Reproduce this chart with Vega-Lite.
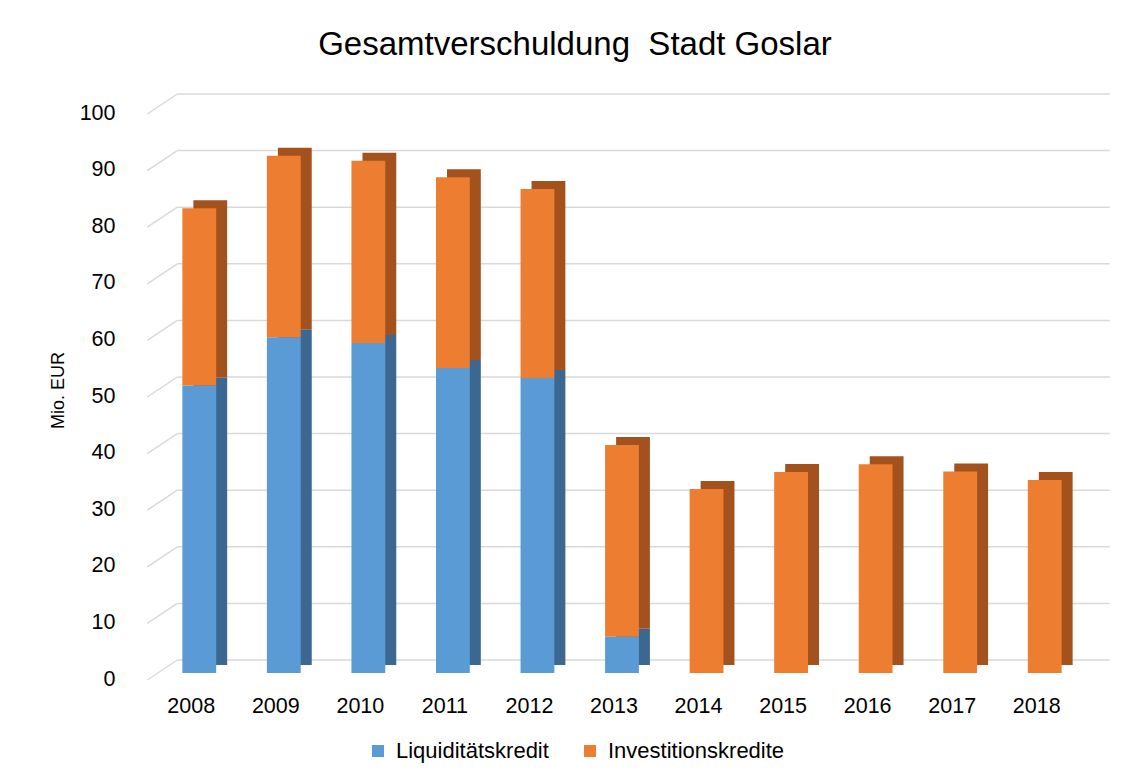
{
  "$schema": "https://vega.github.io/schema/vega-lite/v6.json",
  "width": 930,
  "height": 566,
  "autosize": {"type": "none"},
  "padding": {"left": 157, "top": 107, "right": 44, "bottom": 103},
  "background": "white",
  "title": {
    "text": "Gesamtverschuldung\u00a0 Stadt Goslar",
    "font": "Liberation Sans",
    "fontSize": 33,
    "fontWeight": "normal",
    "color": "#000000",
    "anchor": "middle",
    "baseline": "alphabetic",
    "dx": -47,
    "offset": 5
  },
  "data": {
    "values": [
      {"jahr": "2008", "art": "Liquiditätskredit", "ord": 0, "wert": 50.8},
      {"jahr": "2008", "art": "Investitionskredite", "ord": 1, "wert": 31.3},
      {"jahr": "2009", "art": "Liquiditätskredit", "ord": 0, "wert": 59.3},
      {"jahr": "2009", "art": "Investitionskredite", "ord": 1, "wert": 32.1},
      {"jahr": "2010", "art": "Liquiditätskredit", "ord": 0, "wert": 58.3},
      {"jahr": "2010", "art": "Investitionskredite", "ord": 1, "wert": 32.2},
      {"jahr": "2011", "art": "Liquiditätskredit", "ord": 0, "wert": 53.9},
      {"jahr": "2011", "art": "Investitionskredite", "ord": 1, "wert": 33.7},
      {"jahr": "2012", "art": "Liquiditätskredit", "ord": 0, "wert": 52.1},
      {"jahr": "2012", "art": "Investitionskredite", "ord": 1, "wert": 33.4},
      {"jahr": "2013", "art": "Liquiditätskredit", "ord": 0, "wert": 6.4},
      {"jahr": "2013", "art": "Investitionskredite", "ord": 1, "wert": 33.9},
      {"jahr": "2014", "art": "Liquiditätskredit", "ord": 0, "wert": 0},
      {"jahr": "2014", "art": "Investitionskredite", "ord": 1, "wert": 32.5},
      {"jahr": "2015", "art": "Liquiditätskredit", "ord": 0, "wert": 0},
      {"jahr": "2015", "art": "Investitionskredite", "ord": 1, "wert": 35.5},
      {"jahr": "2016", "art": "Liquiditätskredit", "ord": 0, "wert": 0},
      {"jahr": "2016", "art": "Investitionskredite", "ord": 1, "wert": 36.9},
      {"jahr": "2017", "art": "Liquiditätskredit", "ord": 0, "wert": 0},
      {"jahr": "2017", "art": "Investitionskredite", "ord": 1, "wert": 35.6},
      {"jahr": "2018", "art": "Liquiditätskredit", "ord": 0, "wert": 0},
      {"jahr": "2018", "art": "Investitionskredite", "ord": 1, "wert": 34.1}
    ]
  },
  "encoding": {
    "x": {
      "field": "jahr",
      "type": "ordinal",
      "title": null,
      "scale": {"paddingInner": 0, "paddingOuter": 0},
      "axis": {
        "labelAngle": 0,
        "labelFont": "Liberation Sans",
        "labelFontSize": 21.5,
        "labelColor": "#000000",
        "labelOffset": -8,
        "labelPadding": 22,
        "ticks": false,
        "domain": false
      }
    }
  },
  "layer": [
    {
      "data": {"values": [{"v": 0}, {"v": 10}, {"v": 20}, {"v": 30}, {"v": 40}, {"v": 50}, {"v": 60}, {"v": 70}, {"v": 80}, {"v": 90}, {"v": 100}]},
      "mark": {"type": "rule", "color": "#d9d9d9", "strokeWidth": 1.5, "xOffset": -22, "x2Offset": 65, "yOffset": -13, "y2Offset": -13},
      "encoding": {
        "x": {"datum": "2008", "type": "ordinal"},
        "x2": {"datum": "2018"},
        "y": {"field": "v", "type": "quantitative"},
        "y2": {"field": "v"}
      }
    },
    {
      "data": {"values": [{"v": 0}, {"v": 10}, {"v": 20}, {"v": 30}, {"v": 40}, {"v": 50}, {"v": 60}, {"v": 70}, {"v": 80}, {"v": 90}, {"v": 100}]},
      "mark": {"type": "rule", "color": "#d9d9d9", "strokeWidth": 1.5, "xOffset": -52, "x2Offset": -22, "yOffset": 7, "y2Offset": -13},
      "encoding": {
        "x": {"datum": "2008", "type": "ordinal"},
        "x2": {"datum": "2008"},
        "y": {"field": "v", "type": "quantitative"},
        "y2": {"field": "v"}
      }
    },
    {
      "mark": {"type": "bar", "xOffset": 11, "yOffset": -8, "width": {"band": 0.4}},
      "encoding": {
        "y": {"field": "wert", "type": "quantitative", "stack": "zero"},
        "order": {"field": "ord"},
        "color": {
          "field": "art",
          "type": "nominal",
          "scale": {"domain": ["Liquiditätskredit", "Investitionskredite"], "range": ["#3b6791", "#a4521d"]},
          "legend": null
        }
      }
    },
    {
      "mark": {"type": "bar", "width": {"band": 0.4}},
      "encoding": {
        "y": {
          "field": "wert",
          "type": "quantitative",
          "stack": "zero",
          "title": "Mio. EUR",
          "scale": {"domain": [0, 100]},
          "axis": {
            "values": [0, 10, 20, 30, 40, 50, 60, 70, 80, 90, 100],
            "grid": false,
            "ticks": false,
            "domain": false,
            "labelFont": "Liberation Sans",
            "labelFontSize": 21.5,
            "labelColor": "#000000",
            "labelPadding": 42,
            "labelOffset": 6,
            "titleFont": "Liberation Sans",
            "titleFontSize": 18,
            "titleFontWeight": "normal",
            "titleColor": "#000000",
            "titlePadding": 12
          }
        },
        "order": {"field": "ord"},
        "color": {
          "field": "art",
          "type": "nominal",
          "title": null,
          "scale": {"domain": ["Liquiditätskredit", "Investitionskredite"], "range": ["#5b9bd5", "#ed7d31"]},
          "legend": {
            "orient": "none",
            "direction": "horizontal",
            "legendX": 210,
            "legendY": 633,
            "padding": 0,
            "symbolType": "square",
            "symbolSize": 144,
            "symbolStrokeWidth": 0,
            "labelFont": "Liberation Sans",
            "labelFontSize": 22,
            "labelColor": "#000000",
            "labelOffset": 7,
            "labelLimit": 400,
            "columnPadding": 30
          }
        }
      }
    }
  ],
  "resolve": {"scale": {"color": "independent"}},
  "config": {
    "view": {"stroke": null},
    "axis": {"labelFont": "Liberation Sans"}
  }
}
